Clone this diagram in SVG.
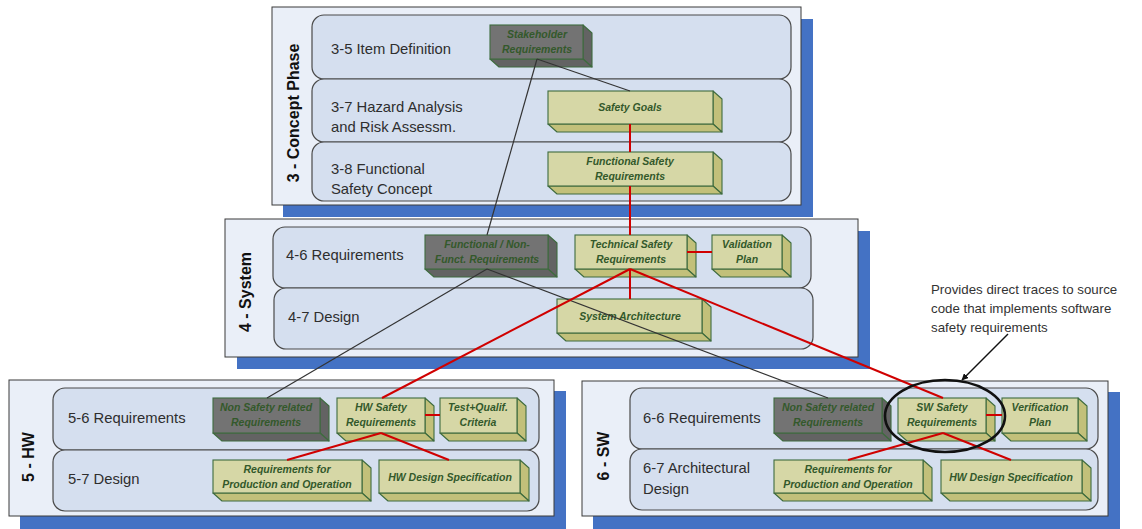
<svg xmlns="http://www.w3.org/2000/svg" width="1142" height="529" viewBox="0 0 1142 529">
<style>
.shadow{fill:#4472C4}
.panel{fill:#EAEFF8;stroke:#3a3a3a;stroke-width:1}
.row{fill:#D5DFEF;stroke:#4a4a4a;stroke-width:1.2}
.plabel{font-family:"Liberation Sans",Arial,sans-serif;font-weight:bold;font-size:16px;fill:#111;text-anchor:middle}
.rlabel{font-family:"Liberation Sans",Arial,sans-serif;font-size:14.8px;fill:#2e2e2e}
.front{fill:#D6D7A6;stroke:#3E6B3E;stroke-width:1.1}
.side{fill:#C2C07A;stroke:#3E6B3E;stroke-width:1.1;stroke-linejoin:round}
.dfront{fill:#737373;stroke:#3E6B3E;stroke-width:1.1}
.dside{fill:#636363;stroke:#3E6B3E;stroke-width:1.1;stroke-linejoin:round}
.bt{font-family:"Liberation Sans",Arial,sans-serif;font-size:10.5px;font-weight:bold;font-style:italic;fill:#33592B;text-anchor:middle}
.blk{stroke:#333;stroke-width:1.2;fill:none}
.red{stroke:#D00000;stroke-width:2;fill:none}
.note{font-family:"Liberation Sans",Arial,sans-serif;font-size:13.3px;fill:#333}
</style>
<defs>
<marker id="arr" viewBox="0 0 10 10" refX="9" refY="5" markerWidth="7" markerHeight="7" orient="auto" markerUnits="userSpaceOnUse">
<path d="M0,0 L10,5 L0,10 z" fill="#111"/>
</marker>
</defs>

<!-- Concept phase panel -->
<g id="panel-concept">
<rect class="shadow" x="283" y="19" width="530" height="198"/>
<rect class="panel" x="272" y="7" width="529" height="198"/>
<rect class="row" x="312" y="15" width="479" height="64" rx="12"/>
<rect class="row" x="312" y="79" width="479" height="63" rx="12"/>
<rect class="row" x="312" y="142" width="479" height="59" rx="12"/>
<text class="plabel" transform="translate(293,113) rotate(-90)" dy="0.35em">3 - Concept Phase</text>
<text class="rlabel" x="331" y="54">3-5 Item Definition</text>
<text class="rlabel" x="331" y="112">3-7 Hazard Analysis</text>
<text class="rlabel" x="331" y="132">and Risk Assessm.</text>
<text class="rlabel" x="331" y="174">3-8 Functional</text>
<text class="rlabel" x="331" y="194">Safety Concept</text>
</g>

<!-- System panel -->
<g id="panel-system">
<rect class="shadow" x="237" y="231" width="633" height="138"/>
<rect class="panel" x="225" y="219" width="633" height="138"/>
<rect class="row" x="273" y="227" width="538" height="61" rx="12"/>
<rect class="row" x="274" y="288" width="539" height="61" rx="12"/>
<text class="plabel" transform="translate(245,292) rotate(-90)" dy="0.35em">4 - System</text>
<text class="rlabel" x="286" y="260">4-6 Requirements</text>
<text class="rlabel" x="288" y="322">4-7 Design</text>
</g>

<!-- HW panel -->
<g id="panel-hw">
<rect class="shadow" x="20" y="391" width="546" height="138"/>
<rect class="panel" x="9" y="380" width="545" height="136"/>
<rect class="row" x="53" y="388" width="486" height="62" rx="12"/>
<rect class="row" x="53" y="450" width="486" height="61" rx="12"/>
<text class="plabel" transform="translate(28,457) rotate(-90)" dy="0.35em">5 - HW</text>
<text class="rlabel" x="68" y="423">5-6 Requirements</text>
<text class="rlabel" x="68" y="484">5-7 Design</text>
</g>

<!-- SW panel -->
<g id="panel-sw">
<rect class="shadow" x="593" y="392" width="527" height="137"/>
<rect class="panel" x="582" y="381" width="526" height="135"/>
<rect class="row" x="630" y="388" width="468" height="61" rx="12"/>
<rect class="row" x="630" y="449" width="468" height="61" rx="12"/>
<text class="plabel" transform="translate(603,456) rotate(-90)" dy="0.35em">6 - SW</text>
<text class="rlabel" x="643" y="423">6-6 Requirements</text>
<text class="rlabel" x="643" y="473">6-7 Architectural</text>
<text class="rlabel" x="643" y="494">Design</text>
</g>

<!-- Boxes -->
<g id="stakeholder-req">
<polygon class="dside" points="583,25 592,33 592,67 583,59"/>
<polygon class="dside" points="490,59 583,59 592,67 499,67"/>
<rect class="dfront" x="490" y="25" width="93" height="34"/>
<text class="bt" x="537" y="37.5">Stakeholder</text>
<text class="bt" x="537" y="52.5">Requirements</text>
</g>
<g id="safety-goals">
<polygon class="side" points="713,91 722,99 722,132 713,124"/>
<polygon class="side" points="548,124 713,124 722,132 557,132"/>
<rect class="front" x="548" y="91" width="165" height="33"/>
<text class="bt" x="630" y="110.5">Safety Goals</text>
</g>
<g id="functional-safety-req">
<polygon class="side" points="713,152 722,160 722,194 713,186"/>
<polygon class="side" points="548,186 713,186 722,194 557,194"/>
<rect class="front" x="548" y="152" width="165" height="34"/>
<text class="bt" x="630" y="164.5">Functional Safety</text>
<text class="bt" x="630" y="179.5">Requirements</text>
</g>
<g id="func-nonfunct-req">
<polygon class="dside" points="548,235 557,243 557,277 548,269"/>
<polygon class="dside" points="425,269 548,269 557,277 434,277"/>
<rect class="dfront" x="425" y="235" width="123" height="34"/>
<text class="bt" x="487" y="247.5">Functional / Non-</text>
<text class="bt" x="487" y="262.5">Funct. Requirements</text>
</g>
<g id="technical-safety-req">
<polygon class="side" points="687,235 696,243 696,277 687,269"/>
<polygon class="side" points="575,269 687,269 696,277 584,277"/>
<rect class="front" x="575" y="235" width="112" height="34"/>
<text class="bt" x="631" y="247.5">Technical Safety</text>
<text class="bt" x="631" y="262.5">Requirements</text>
</g>
<g id="validation-plan">
<polygon class="side" points="782,235 791,243 791,277 782,269"/>
<polygon class="side" points="712,269 782,269 791,277 721,277"/>
<rect class="front" x="712" y="235" width="70" height="34"/>
<text class="bt" x="747" y="247.5">Validation</text>
<text class="bt" x="747" y="262.5">Plan</text>
</g>
<g id="system-architecture">
<polygon class="side" points="702,299 711,307 711,341 702,333"/>
<polygon class="side" points="557,333 702,333 711,341 566,341"/>
<rect class="front" x="557" y="299" width="145" height="34"/>
<text class="bt" x="630" y="319.5">System Architecture</text>
</g>
<g id="hw-non-safety-req">
<polygon class="dside" points="320,398 329,406 329,441 320,433"/>
<polygon class="dside" points="213,433 320,433 329,441 222,441"/>
<rect class="dfront" x="213" y="398" width="107" height="35"/>
<text class="bt" x="266" y="410.5">Non Safety related</text>
<text class="bt" x="266" y="425.5">Requirements</text>
</g>
<g id="hw-safety-req">
<polygon class="side" points="425,398 434,406 434,441 425,433"/>
<polygon class="side" points="337,433 425,433 434,441 346,441"/>
<rect class="front" x="337" y="398" width="88" height="35"/>
<text class="bt" x="381" y="410.5">HW Safety</text>
<text class="bt" x="381" y="425.5">Requirements</text>
</g>
<g id="test-qualif-criteria">
<polygon class="side" points="517,398 526,406 526,441 517,433"/>
<polygon class="side" points="440,433 517,433 526,441 449,441"/>
<rect class="front" x="440" y="398" width="77" height="35"/>
<text class="bt" x="478" y="410.5">Test+Qualif.</text>
<text class="bt" x="478" y="425.5">Criteria</text>
</g>
<g id="hw-req-production">
<polygon class="side" points="362,460 371,468 371,501 362,493"/>
<polygon class="side" points="213,493 362,493 371,501 222,501"/>
<rect class="front" x="213" y="460" width="149" height="33"/>
<text class="bt" x="287" y="472.5">Requirements for</text>
<text class="bt" x="287" y="487.5">Production and Operation</text>
</g>
<g id="hw-design-spec">
<polygon class="side" points="520,460 529,468 529,501 520,493"/>
<polygon class="side" points="379,493 520,493 529,501 388,501"/>
<rect class="front" x="379" y="460" width="141" height="33"/>
<text class="bt" x="450" y="480.5">HW Design Specification</text>
</g>
<g id="sw-non-safety-req">
<polygon class="dside" points="882,398 891,406 891,441 882,433"/>
<polygon class="dside" points="774,433 882,433 891,441 783,441"/>
<rect class="dfront" x="774" y="398" width="108" height="35"/>
<text class="bt" x="828" y="410.5">Non Safety related</text>
<text class="bt" x="828" y="425.5">Requirements</text>
</g>
<g id="sw-safety-req">
<polygon class="side" points="986,398 995,406 995,441 986,433"/>
<polygon class="side" points="898,433 986,433 995,441 907,441"/>
<rect class="front" x="898" y="398" width="88" height="35"/>
<text class="bt" x="942" y="410.5">SW Safety</text>
<text class="bt" x="942" y="425.5">Requirements</text>
</g>
<g id="verification-plan">
<polygon class="side" points="1078,398 1087,406 1087,441 1078,433"/>
<polygon class="side" points="1002,433 1078,433 1087,441 1011,441"/>
<rect class="front" x="1002" y="398" width="76" height="35"/>
<text class="bt" x="1040" y="410.5">Verification</text>
<text class="bt" x="1040" y="425.5">Plan</text>
</g>
<g id="sw-req-production">
<polygon class="side" points="923,460 932,468 932,501 923,493"/>
<polygon class="side" points="774,493 923,493 932,501 783,501"/>
<rect class="front" x="774" y="460" width="149" height="33"/>
<text class="bt" x="848" y="472.5">Requirements for</text>
<text class="bt" x="848" y="487.5">Production and Operation</text>
</g>
<g id="sw-hw-design-spec">
<polygon class="side" points="1082,460 1091,468 1091,501 1082,493"/>
<polygon class="side" points="941,493 1082,493 1091,501 950,501"/>
<rect class="front" x="941" y="460" width="141" height="33"/>
<text class="bt" x="1011" y="480.5">HW Design Specification</text>
</g>

<!-- Connectors -->
<g id="connectors">
<line class="blk" x1="537" y1="59" x2="630" y2="91"/>
<line class="blk" x1="537" y1="59" x2="487" y2="235"/>
<line class="blk" x1="487" y1="269" x2="267" y2="398"/>
<line class="blk" x1="487" y1="269" x2="828" y2="398"/>
<line class="red" x1="630" y1="124" x2="630" y2="152"/>
<line class="red" x1="630" y1="186" x2="630" y2="235"/>
<line class="red" x1="687" y1="252" x2="712" y2="252"/>
<line class="red" x1="630" y1="269" x2="630" y2="299"/>
<line class="red" x1="630" y1="269" x2="382" y2="398"/>
<line class="red" x1="630" y1="269" x2="943" y2="398"/>
<line class="red" x1="425" y1="415" x2="440" y2="415"/>
<line class="red" x1="381" y1="433" x2="287" y2="460"/>
<line class="red" x1="381" y1="433" x2="449" y2="460"/>
<line class="red" x1="986" y1="415" x2="1002" y2="415"/>
<line class="red" x1="943" y1="433" x2="848" y2="460"/>
<line class="red" x1="943" y1="433" x2="1011" y2="460"/>
</g>

<!-- Annotation -->
<g id="annotation">
<ellipse cx="945" cy="416" rx="60" ry="36" fill="none" stroke="#111" stroke-width="2.6"/>
<line x1="1008" y1="334" x2="962" y2="380" stroke="#111" stroke-width="1.5" marker-end="url(#arr)"/>
<text class="note" x="931" y="294">Provides direct traces to source</text>
<text class="note" x="931" y="313">code that implements software</text>
<text class="note" x="931" y="332">safety requirements</text>
</g>
</svg>
